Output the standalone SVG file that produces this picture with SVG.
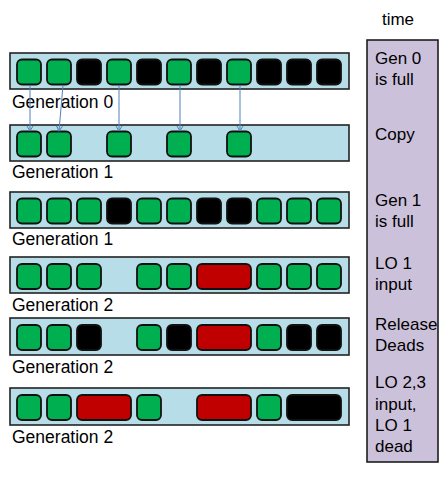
<svg xmlns="http://www.w3.org/2000/svg" width="443" height="480" viewBox="0 0 443 480">
<defs>
<style>
.bar{fill:#b7dee8;stroke:#222;stroke-width:1.6}
.g{fill:#00b050;stroke:#111;stroke-width:1.8}
.k{fill:#000;stroke:#111;stroke-width:1.8}
.r{fill:#c00000;stroke:#111;stroke-width:1.8}
.lbl{font-family:"Liberation Sans",Arial,sans-serif;font-size:17.5px;fill:#000}
.tl{font-family:"Liberation Sans",Arial,sans-serif;font-size:17px;fill:#000}
.conn{stroke:#4f81bd;stroke-width:1;fill:none}
</style>
<marker id="ah" markerWidth="8" markerHeight="8" refX="6" refY="4" orient="auto" markerUnits="userSpaceOnUse">
<path d="M1,1 L6,4 L1,7" fill="none" stroke="#4f81bd" stroke-width="1"/>
</marker>
</defs>
<rect width="443" height="480" fill="#fff"/>

<g id="row0">
<rect class="bar" x="10" y="53" width="339" height="36"/>
<rect class="g" x="17" y="59.5" width="24" height="25" rx="5"/>
<rect class="g" x="47" y="59.5" width="24" height="25" rx="5"/>
<rect class="k" x="77" y="59.5" width="24" height="25" rx="5"/>
<rect class="g" x="107" y="59.5" width="24" height="25" rx="5"/>
<rect class="k" x="137" y="59.5" width="24" height="25" rx="5"/>
<rect class="g" x="167" y="59.5" width="24" height="25" rx="5"/>
<rect class="k" x="197" y="59.5" width="24" height="25" rx="5"/>
<rect class="g" x="227" y="59.5" width="24" height="25" rx="5"/>
<rect class="k" x="257" y="59.5" width="24" height="25" rx="5"/>
<rect class="k" x="287" y="59.5" width="24" height="25" rx="5"/>
<rect class="k" x="317" y="59.5" width="24" height="25" rx="5"/>
<text class="lbl" x="12" y="108">Generation 0</text>
</g>

<g id="row1">
<rect class="bar" x="10" y="125" width="339" height="36"/>
<rect class="g" x="17" y="131.5" width="24" height="25" rx="5"/>
<rect class="g" x="47" y="131.5" width="24" height="25" rx="5"/>
<rect class="g" x="107" y="131.5" width="24" height="25" rx="5"/>
<rect class="g" x="167" y="131.5" width="24" height="25" rx="5"/>
<rect class="g" x="227" y="131.5" width="24" height="25" rx="5"/>
<text class="lbl" x="12" y="178">Generation 1</text>
</g>

<g id="row2">
<rect class="bar" x="10" y="192" width="339" height="36"/>
<rect class="g" x="17" y="198.5" width="24" height="25" rx="5"/>
<rect class="g" x="47" y="198.5" width="24" height="25" rx="5"/>
<rect class="g" x="77" y="198.5" width="24" height="25" rx="5"/>
<rect class="k" x="107" y="198.5" width="24" height="25" rx="5"/>
<rect class="g" x="137" y="198.5" width="24" height="25" rx="5"/>
<rect class="g" x="167" y="198.5" width="24" height="25" rx="5"/>
<rect class="k" x="197" y="198.5" width="24" height="25" rx="5"/>
<rect class="k" x="227" y="198.5" width="24" height="25" rx="5"/>
<rect class="g" x="257" y="198.5" width="24" height="25" rx="5"/>
<rect class="g" x="287" y="198.5" width="24" height="25" rx="5"/>
<rect class="g" x="317" y="198.5" width="24" height="25" rx="5"/>
<text class="lbl" x="12" y="245">Generation 1</text>
</g>

<g id="row3">
<rect class="bar" x="10" y="257" width="339" height="36"/>
<rect class="g" x="17" y="264" width="24" height="25" rx="5"/>
<rect class="g" x="47" y="264" width="24" height="25" rx="5"/>
<rect class="g" x="77" y="264" width="24" height="25" rx="5"/>
<rect class="g" x="137" y="264" width="24" height="25" rx="5"/>
<rect class="g" x="167" y="264" width="24" height="25" rx="5"/>
<rect class="r" x="197" y="264" width="54" height="25" rx="5"/>
<rect class="g" x="257" y="264" width="24" height="25" rx="5"/>
<rect class="g" x="287" y="264" width="24" height="25" rx="5"/>
<rect class="g" x="317" y="264" width="24" height="25" rx="5"/>
<text class="lbl" x="12" y="311">Generation 2</text>
</g>

<g id="row4">
<rect class="bar" x="10" y="318" width="339" height="37"/>
<rect class="g" x="17" y="325" width="24" height="25" rx="5"/>
<rect class="g" x="47" y="325" width="24" height="25" rx="5"/>
<rect class="k" x="77" y="325" width="24" height="25" rx="5"/>
<rect class="g" x="137" y="325" width="24" height="25" rx="5"/>
<rect class="k" x="167" y="325" width="24" height="25" rx="5"/>
<rect class="r" x="197" y="325" width="54" height="25" rx="5"/>
<rect class="g" x="257" y="325" width="24" height="25" rx="5"/>
<rect class="k" x="287" y="325" width="24" height="25" rx="5"/>
<rect class="k" x="317" y="325" width="24" height="25" rx="5"/>
<text class="lbl" x="12" y="373">Generation 2</text>
</g>

<g id="row5">
<rect class="bar" x="10" y="388" width="339" height="37"/>
<rect class="g" x="17" y="395" width="24" height="25" rx="5"/>
<rect class="g" x="47" y="395" width="24" height="25" rx="5"/>
<rect class="r" x="77" y="395" width="54" height="25" rx="5"/>
<rect class="g" x="137" y="395" width="24" height="25" rx="5"/>
<rect class="r" x="197" y="395" width="54" height="25" rx="5"/>
<rect class="g" x="257" y="395" width="24" height="25" rx="5"/>
<rect class="k" x="287" y="395" width="54" height="25" rx="5"/>
<text class="lbl" x="12" y="443">Generation 2</text>
</g>

<g id="connectors">
<line class="conn" x1="30" y1="85" x2="30" y2="131" marker-end="url(#ah)"/>
<line class="conn" x1="63" y1="85" x2="59" y2="131" marker-end="url(#ah)"/>
<line class="conn" x1="119" y1="85" x2="119" y2="131" marker-end="url(#ah)"/>
<line class="conn" x1="180" y1="85" x2="180" y2="131" marker-end="url(#ah)"/>
<line class="conn" x1="240" y1="85" x2="240" y2="131" marker-end="url(#ah)"/>
</g>

<g id="timeline">
<text class="tl" x="398" y="25" text-anchor="middle">time</text>
<rect x="367" y="40" width="71" height="422" fill="#ccc1da" stroke="#111" stroke-width="1.5"/>
<text class="tl" x="375" y="64">Gen 0</text>
<text class="tl" x="375" y="85">is full</text>
<text class="tl" x="375" y="140">Copy</text>
<text class="tl" x="375" y="206">Gen 1</text>
<text class="tl" x="375" y="227">is full</text>
<text class="tl" x="375" y="269">LO 1</text>
<text class="tl" x="375" y="290">input</text>
<text class="tl" x="375" y="330">Release</text>
<text class="tl" x="375" y="351">Deads</text>
<text class="tl" x="375" y="388">LO 2,3</text>
<text class="tl" x="375" y="410">input,</text>
<text class="tl" x="375" y="431">LO 1</text>
<text class="tl" x="375" y="452">dead</text>
</g>
</svg>
